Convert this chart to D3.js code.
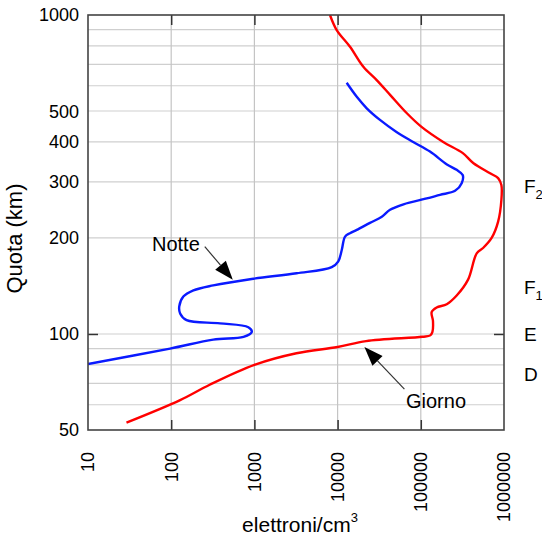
<!DOCTYPE html>
<html>
<head>
<meta charset="utf-8">
<title>Ionosfera</title>
<style>
  body { margin: 0; background: #fff; }
  svg text { font-family: "Liberation Sans", Arial, sans-serif; fill: #000; }
</style>
</head>
<body>
<svg width="542" height="542"></svg>
<script src="https://d3js.org/d3.v7.min.js"></script>
<script>

// electron density (elettroni/cm3) vs altitude (km)
var giorno = [
  [29, 52.7], [128, 62], [290, 69.3], [1000, 80], [3200, 87], [10000, 91],
  [22000, 95], [105000, 98], [130000, 99], [138000, 101.5], [140000, 110],
  [135000, 117], [155000, 121], [205000, 124], [270000, 132], [370000, 148],
  [470000, 179], [560000, 186], [710000, 200], [850000, 225], [930000, 263],
  [930000, 293], [850000, 308], [680000, 319], [430000, 343], [320000, 369],
  [186000, 400], [102000, 446], [68000, 492], [43000, 561], [29500, 625],
  [20400, 688], [14100, 795], [9750, 897], [8100, 1000]
];

var notte = [
  [10, 80.5], [97, 90], [320, 96], [740, 98], [930, 101.5], [845, 105],
  [386, 108], [153, 110.5], [128, 116], [125, 122], [140, 131], [185, 137],
  [320, 142], [970, 149], [3220, 155], [8500, 162], [10200, 169], [11200, 183],
  [12300, 202], [14100, 207], [17000, 212], [24500, 223], [34000, 233],
  [42700, 245], [62000, 255], [118000, 266], [170000, 273], [258000, 281],
  [310000, 297], [319000, 315], [270000, 327], [206000, 340], [129000, 373],
  [81000, 400], [51000, 430], [32300, 469], [22400, 510], [17000, 554],
  [12850, 613]
];

var xTicks = [10, 100, 1000, 10000, 100000, 1000000];
var yTickLabels = [50, 100, 200, 300, 400, 500, 1000];
var yGrid = [60, 70, 80, 90, 100, 200, 300, 400, 500, 600, 700, 800, 900];
var layers = [["F", "2", 290], ["F", "1", 140], ["E", "", 100], ["D", "", 75]];

var svg = d3.select("svg"),
    margin = {top: 15, right: 38, bottom: 112, left: 88},
    width = 542 - margin.left - margin.right,
    height = 542 - margin.top - margin.bottom,
    g = svg.append("g").attr("transform", "translate(" + margin.left + "," + margin.top + ")");

var x = d3.scaleLog().domain([10, 1000000]).range([0, width]);
var y = d3.scaleLog().domain([50, 1000]).range([height, 0]);

// grid
g.selectAll(".hgrid")
  .data(yGrid)
  .enter().append("line")
    .attr("x1", 0).attr("x2", width)
    .attr("y1", function(d) { return y(d); })
    .attr("y2", function(d) { return y(d); })
    .attr("stroke", "#cfcfcf")
    .attr("stroke-width", 1.2);

g.selectAll(".vgrid")
  .data(xTicks.slice(1, -1))
  .enter().append("line")
    .attr("x1", function(d) { return x(d); })
    .attr("x2", function(d) { return x(d); })
    .attr("y1", 0).attr("y2", height)
    .attr("stroke", "#c4c4c4")
    .attr("stroke-width", 1.2);

// axes: inward ticks only at decades
var tk = 10;
function tickStyle(s) {
  s.select(".domain").remove();
  s.selectAll("line").attr("stroke", "#333").attr("stroke-width", 1.5);
}
g.append("g")
    .attr("transform", "translate(0," + height + ")")
    .call(d3.axisTop(x).tickValues(xTicks.slice(1, -1)).tickSize(tk).tickFormat(""))
    .call(tickStyle);
g.append("g")
    .call(d3.axisBottom(x).tickValues(xTicks.slice(1, -1)).tickSize(tk).tickFormat(""))
    .call(tickStyle);
g.append("g")
    .call(d3.axisRight(y).tickValues([100]).tickSize(tk).tickFormat(""))
    .call(tickStyle);
g.append("g")
    .attr("transform", "translate(" + width + ",0)")
    .call(d3.axisLeft(y).tickValues([100]).tickSize(tk).tickFormat(""))
    .call(tickStyle);

// tick labels
g.selectAll(".ylab")
  .data(yTickLabels)
  .enter().append("text")
    .attr("x", -9)
    .attr("y", function(d) { return y(d); })
    .attr("dy", "0.36em")
    .attr("text-anchor", "end")
    .attr("font-size", 18)
    .text(function(d) { return d; });

g.selectAll(".xlab")
  .data(xTicks)
  .enter().append("text")
    .attr("transform", function(d) { return "translate(" + x(d) + "," + (height + 22) + ") rotate(-90)"; })
    .attr("dy", "0.36em")
    .attr("text-anchor", "end")
    .attr("font-size", 18)
    .text(function(d) { return d; });

// axis titles
var xt = g.append("text")
    .attr("x", width / 2 + 4)
    .attr("y", height + 102)
    .attr("text-anchor", "middle")
    .attr("font-size", 21)
    .text("elettroni/cm");
xt.append("tspan").attr("font-size", 13).attr("dy", -10).text("3");

g.append("text")
    .attr("transform", "translate(" + (-66) + "," + (height / 2 + 16) + ") rotate(-90)")
    .attr("text-anchor", "middle")
    .attr("font-size", 22)
    .text("Quota (km)");

// layer labels on the right
var lab = g.selectAll(".layer")
  .data(layers)
  .enter().append("text")
    .attr("x", width + 20)
    .attr("y", function(d) { return y(d[2]); })
    .attr("dy", "0.36em")
    .attr("font-size", 19)
    .text(function(d) { return d[0]; });
lab.append("tspan")
    .attr("font-size", 13)
    .attr("dy", 6)
    .text(function(d) { return d[1]; });

// curves
g.append("clipPath").attr("id", "clip")
  .append("rect").attr("width", width).attr("height", height);

var line = d3.line()
    .x(function(d) { return x(d[0]); })
    .y(function(d) { return y(d[1]); })
    .curve(d3.curveCatmullRom.alpha(0.5));

g.append("path")
    .datum(giorno)
    .attr("clip-path", "url(#clip)")
    .attr("fill", "none")
    .attr("stroke", "#ff0000")
    .attr("stroke-width", 2.4)
    .attr("stroke-linejoin", "round")
    .attr("d", line);

g.append("path")
    .datum(notte)
    .attr("clip-path", "url(#clip)")
    .attr("fill", "none")
    .attr("stroke", "#0a1aff")
    .attr("stroke-width", 2.4)
    .attr("stroke-linejoin", "round")
    .attr("d", line);

// frame
g.append("rect")
    .attr("width", width).attr("height", height)
    .attr("fill", "none")
    .attr("stroke", "#444")
    .attr("stroke-width", 1.6);

// annotations with arrows
function arrow(tip, dx, dy) {
  var tx = x(tip[0]), ty = y(tip[1]),
      sx = tx + dx, sy = ty + dy,
      len = Math.sqrt(dx * dx + dy * dy),
      ux = -dx / len, uy = -dy / len,
      hl = 19, hw = 7;
  var bx = tx - ux * hl, by = ty - uy * hl;
  g.append("line")
      .attr("x1", sx).attr("y1", sy).attr("x2", bx).attr("y2", by)
      .attr("stroke", "#333").attr("stroke-width", 1.2);
  g.append("path")
      .attr("d", "M" + tx + "," + ty +
                 "L" + (bx - uy * hw) + "," + (by + ux * hw) +
                 "L" + (bx + uy * hw) + "," + (by - ux * hw) + "Z")
      .attr("fill", "#000");
}

arrow([550, 148], -28, -33);
g.append("text")
    .attr("x", 152 - margin.left).attr("y", 251 - margin.top)
    .attr("font-size", 20)
    .text("Notte");

arrow([21000, 91], 40, 42);
g.append("text")
    .attr("x", 406 - margin.left).attr("y", 408 - margin.top)
    .attr("font-size", 20)
    .text("Giorno");

</script>
</body>
</html>
